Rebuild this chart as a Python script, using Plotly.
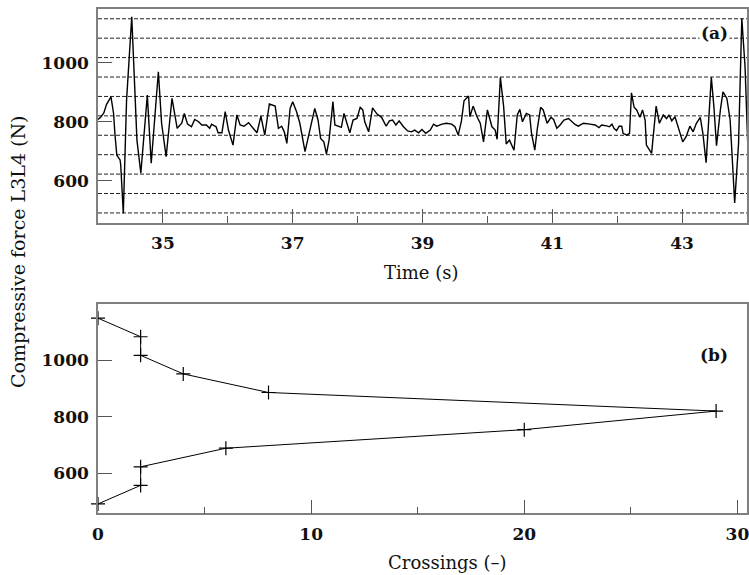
import plotly.graph_objects as go

# ---- Panel (a): compressive force time history ----
time_s = [34.00, 34.04, 34.09, 34.13, 34.20, 34.24, 34.26, 34.29, 34.34, 34.35, 34.39, 34.44, 34.52,
          34.57, 34.60, 34.66, 34.76, 34.82, 34.93, 34.98, 35.05, 35.14, 35.19, 35.22, 35.29, 35.33,
          35.38, 35.44, 35.49, 35.55, 35.60, 35.67, 35.72, 35.75, 35.82, 35.85, 35.91, 35.96, 36.01,
          36.08, 36.14, 36.19, 36.25, 36.32, 36.39, 36.45, 36.51, 36.57, 36.64, 36.73, 36.78, 36.83,
          36.87, 36.91, 36.96, 37.00, 37.06, 37.11, 37.19, 37.27, 37.34, 37.39, 37.43, 37.48, 37.52,
          37.56, 37.62, 37.65, 37.72, 37.75, 37.79, 37.83, 37.88, 37.93, 37.99, 38.04, 38.08, 38.11,
          38.17, 38.23, 38.30, 38.37, 38.44, 38.49, 38.54, 38.59, 38.64, 38.70, 38.77, 38.83, 38.88,
          38.94, 38.99, 39.05, 39.12, 39.17, 39.22, 39.30, 39.37, 39.45, 39.50, 39.55, 39.60, 39.64,
          39.71, 39.73, 39.78, 39.84, 39.89, 39.94, 40.00, 40.07, 40.12, 40.15, 40.20, 40.25, 40.29,
          40.34, 40.41, 40.46, 40.50, 40.54, 40.60, 40.65, 40.68, 40.73, 40.77, 40.82, 40.86, 40.92,
          40.98, 41.02, 41.07, 41.12, 41.18, 41.25, 41.30, 41.35, 41.40, 41.48, 41.58, 41.66, 41.72,
          41.76, 41.84, 41.88, 41.92, 41.95, 41.99, 42.03, 42.07, 42.09, 42.15, 42.19, 42.22, 42.26,
          42.30, 42.35, 42.39, 42.43, 42.45, 42.53, 42.60, 42.65, 42.71, 42.76, 42.80, 42.84, 42.89,
          42.94, 43.01, 43.06, 43.12, 43.17, 43.22, 43.28, 43.32, 43.37, 43.41, 43.45, 43.49, 43.53,
          43.59, 43.63, 43.69, 43.74, 43.78, 43.81, 43.87, 43.92, 43.97, 44.02]
force_n = [808, 815, 830, 858, 884, 828, 761, 687, 671, 654, 491, 873, 1155,
           873, 738, 626, 890, 660, 969, 795, 682, 879, 806, 778, 795, 828,
           792, 783, 808, 800, 789, 789, 778, 792, 783, 763, 763, 834, 772,
           721, 823, 789, 785, 797, 778, 763, 819, 755, 860, 853, 778, 785,
           766, 727, 845, 868, 834, 795, 699, 772, 845, 806, 744, 732, 691,
           738, 868, 789, 785, 781, 828, 795, 763, 806, 811, 849, 840, 800,
           766, 847, 826, 815, 785, 803, 806, 789, 803, 785, 769, 766, 772,
           763, 774, 761, 772, 792, 785, 792, 795, 792, 783, 755, 803, 871,
           887, 817, 853, 817, 795, 732, 840, 783, 772, 741, 950, 851, 725,
           738, 704, 823, 842, 800, 828, 823, 761, 704, 778, 849, 840, 795,
           815, 808, 778, 789, 806, 811, 800, 791, 785, 795, 792, 789, 780,
           789, 786, 783, 792, 778, 770, 785, 785, 761, 755, 761, 898, 849,
           840, 815, 840, 806, 721, 693, 853, 795, 823, 811, 823, 803, 817,
           778, 732, 749, 785, 766, 795, 815, 761, 662, 828, 950, 851, 719,
           840, 901, 879, 806, 648, 526, 727, 1149, 986, 671]

# Force levels used for the level-crossing count (dashed lines in panel a)
levels = [492, 557.6, 623.2, 688.8, 754.4, 820, 885.6, 951.2, 1016.8, 1082.4, 1148]

# ---- Panel (b): number of crossings per level (upper branch then lower branch) ----
crossings = [0, 2, 2, 4, 8, 29, 20, 6, 2, 2, 0]
crossing_levels = [1148, 1082.4, 1016.8, 951.2, 885.6, 820, 754.4, 688.8, 623.2, 557.6, 492]

top_xticks = [35, 37, 39, 41, 43]
top_xminor = [36, 38, 40, 42]
bot_xticks = [0, 10, 20, 30]
bot_xminor = [5, 15, 25]
yticks = [600, 800, 1000]

FONT = "DejaVu Serif"
TXT = "#111"
AX = "#808080"

fig = go.Figure()
fig.add_trace(go.Scatter(x=time_s, y=force_n, mode="lines",
                         line=dict(color="black", width=1.4),
                         xaxis="x", yaxis="y", showlegend=False, hoverinfo="x+y"))
fig.add_trace(go.Scatter(x=crossings, y=crossing_levels, mode="lines+markers",
                         line=dict(color="black", width=1),
                         marker=dict(symbol="cross-thin", size=10, color="black",
                                     line=dict(color="black", width=1.2)),
                         xaxis="x2", yaxis="y2", showlegend=False, cliponaxis=False))

shapes = []
for lv in levels:
    shapes.append(dict(type="line", xref="x domain", yref="y", x0=0, x1=1, y0=lv, y1=lv,
                       line=dict(color="#222", width=1, dash="4px,2px"), layer="below"))

common_axis = dict(showline=True, linecolor=AX, linewidth=1.6, mirror=True,
                   ticks="inside", tickcolor="#555", tickwidth=1.3, ticklen=14,
                   showgrid=False, zeroline=False, automargin=False,
                   ticklabeloverflow="allow",
                   tickfont=dict(family=FONT, size=17, color=TXT, weight="bold"))

xd = [98 / 749, 747 / 749]
title_font = dict(family=FONT, size=18, color=TXT)
fig.update_layout(
    width=749, height=575,
    margin=dict(l=0, r=0, t=0, b=0),
    paper_bgcolor="white", plot_bgcolor="white",
    showlegend=False,
    shapes=shapes,
    xaxis=dict(domain=xd, range=[34, 44], tickmode="array", tickvals=top_xticks,
               anchor="y", ticklabelstandoff=4,
               minor=dict(tickmode="array", tickvals=top_xminor, ticklen=7, tickcolor="#555",
                          tickwidth=1.3, ticks="inside"),
               **common_axis),
    yaxis=dict(domain=[1 - 223 / 575, 1 - 9 / 575], range=[458, 1181], tickmode="array",
               tickvals=yticks, anchor="x", ticklabelstandoff=4, **common_axis),
    xaxis2=dict(domain=xd, range=[0, 30.45], tickmode="array", tickvals=bot_xticks,
                anchor="y2", ticklabelstandoff=4,
                minor=dict(tickmode="array", tickvals=bot_xminor, ticklen=7, tickcolor="#555",
                           tickwidth=1.3, ticks="inside"),
                **common_axis),
    yaxis2=dict(domain=[1 - 513.3 / 575, 1 - 304.3 / 575], range=[459, 1197], tickmode="array",
                tickvals=yticks, anchor="x2", ticklabelstandoff=4, **common_axis),
    annotations=[
        dict(text="Compressive force L3L4 (N)", textangle=-90, xref="paper", yref="paper",
             x=18 / 749, y=1 - 252 / 575, xanchor="center", yanchor="middle", showarrow=False,
             font=dict(family=FONT, size=19, color=TXT)),
        dict(text="Time (s)", xref="paper", yref="paper", x=421 / 749, y=1 - 272 / 575,
             xanchor="center", yanchor="middle", showarrow=False, font=title_font),
        dict(text="Crossings (–)", xref="paper", yref="paper", x=447 / 749, y=1 - 562 / 575,
             xanchor="center", yanchor="middle", showarrow=False, font=title_font),
        dict(text="<b>(a)</b>", xref="paper", yref="paper", x=714 / 749, y=1 - 33 / 575,
             xanchor="center", yanchor="middle", showarrow=False, bgcolor="white",
             borderpad=1, font=dict(family=FONT, size=17, color=TXT)),
        dict(text="<b>(b)</b>", xref="paper", yref="paper", x=714 / 749, y=1 - 355 / 575,
             xanchor="center", yanchor="middle", showarrow=False,
             font=dict(family=FONT, size=17, color=TXT)),
    ],
)

fig.write_html("out.html", config={"displayModeBar": False},
               post_script="document.body.style.margin='0px';document.body.style.overflow='hidden';")
